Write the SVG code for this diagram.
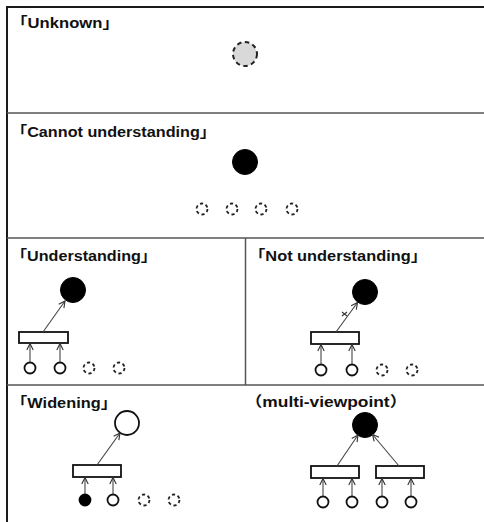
<svg xmlns="http://www.w3.org/2000/svg" width="484" height="522" viewBox="0 0 484 522">
<style>
.frame{stroke:#1a1a1a;stroke-width:2;fill:none}
.div{stroke:#555;stroke-width:1.5;fill:none}
.lbl{font-family:"Liberation Sans","Noto Sans CJK JP",sans-serif;font-weight:bold;font-size:14.5px;fill:#111}
.dash{fill:#fff;stroke:#222;stroke-width:1.8;stroke-dasharray:3.2 2.6}
.sm{fill:#fff;stroke:#111;stroke-width:1.8}
.blk{fill:#000;stroke:#000;stroke-width:1}
.box{fill:#fff;stroke:#111;stroke-width:1.8}
.arr{stroke:#444;stroke-width:1.1;fill:none;marker-end:url(#ah)}
</style>
<defs>
<marker id="ah" viewBox="0 0 10 10" refX="9" refY="5" markerWidth="8" markerHeight="8" orient="auto" markerUnits="userSpaceOnUse">
<path d="M1,1 L9,5 L1,9" fill="none" stroke="#333" stroke-width="1.4"/>
</marker>
</defs>
<rect width="484" height="522" fill="#fff"/>
<g id="frame">
<line class="frame" x1="7" y1="7" x2="484" y2="7"/>
<line class="frame" x1="7" y1="6" x2="7" y2="522"/>
<line class="div" x1="7" y1="113" x2="484" y2="113"/>
<line class="div" x1="7" y1="238" x2="484" y2="238"/>
<line class="div" x1="7" y1="385" x2="484" y2="385"/>
<line class="div" x1="245.5" y1="238" x2="245.5" y2="385"/>
</g>
<g id="labels">
<text class="lbl" x="11" y="28" textLength="108" lengthAdjust="spacingAndGlyphs">「Unknown」</text>
<text class="lbl" x="11" y="137" textLength="205" lengthAdjust="spacingAndGlyphs">「Cannot understanding」</text>
<text class="lbl" x="11" y="261" textLength="146" lengthAdjust="spacingAndGlyphs">「Understanding」</text>
<text class="lbl" x="249" y="261" textLength="178" lengthAdjust="spacingAndGlyphs">「Not understanding」</text>
<text class="lbl" x="11" y="408" textLength="106" lengthAdjust="spacingAndGlyphs">「Widening」</text>
<text class="lbl" x="245" y="407" textLength="162" lengthAdjust="spacingAndGlyphs">（multi-viewpoint）</text>
</g>
<g id="unknown">
<circle cx="245" cy="54" r="12" fill="#d9d9d9" stroke="#222" stroke-width="2" stroke-dasharray="4.5 3.5"/>
</g>
<g id="cannot">
<circle class="blk" cx="245" cy="162" r="12.5"/>
<circle class="dash" cx="202" cy="209" r="5.5"/>
<circle class="dash" cx="232" cy="209" r="5.5"/>
<circle class="dash" cx="261" cy="209" r="5.5"/>
<circle class="dash" cx="292" cy="209" r="5.5"/>
</g>
<g id="understanding">
<circle class="blk" cx="73" cy="290" r="12.5"/>
<rect class="box" x="19" y="332" width="49" height="11"/>
<circle class="sm" cx="30" cy="368" r="5.5"/>
<circle class="sm" cx="60" cy="368" r="5.5"/>
<circle class="dash" cx="89" cy="368" r="5.5"/>
<circle class="dash" cx="119" cy="368" r="5.5"/>
</g>
<g id="not-understanding">
<circle class="blk" cx="365" cy="292" r="12.5"/>
<rect class="box" x="311" y="332" width="48" height="12"/>
<circle class="sm" cx="321" cy="370" r="5.5"/>
<circle class="sm" cx="352" cy="370" r="5.5"/>
<circle class="dash" cx="382" cy="370" r="5.5"/>
<circle class="dash" cx="412" cy="370" r="5.5"/>
<path d="M342,312 L347,316 M342,316 L347,312" stroke="#333" stroke-width="1.1" fill="none"/>
</g>
<g id="widening">
<circle class="sm" cx="127" cy="423" r="12"/>
<rect class="box" x="73" y="465" width="48" height="12"/>
<circle cx="85" cy="500" r="5.5" fill="#000" stroke="#000" stroke-width="1.8"/>
<circle class="sm" cx="113" cy="500" r="5.5"/>
<circle class="dash" cx="144" cy="500" r="5.5"/>
<circle class="dash" cx="174" cy="500" r="5.5"/>
</g>
<g id="multi-viewpoint">
<circle class="blk" cx="365" cy="425" r="12.5"/>
<rect class="box" x="311" y="466" width="48" height="12"/>
<rect class="box" x="376" y="466" width="48" height="12"/>
<circle class="sm" cx="323" cy="502" r="5.5"/>
<circle class="sm" cx="352" cy="502" r="5.5"/>
<circle class="sm" cx="382" cy="502" r="5.5"/>
<circle class="sm" cx="411" cy="502" r="5.5"/>
</g>
<g id="connectors">
<line class="arr" x1="43" y1="332" x2="65" y2="301"/>
<line class="arr" x1="30" y1="362" x2="30" y2="343.5"/>
<line class="arr" x1="60" y1="362" x2="60" y2="343.5"/>
<line class="arr" x1="336" y1="332" x2="357.5" y2="302.5"/>
<line class="arr" x1="321" y1="364" x2="321" y2="344.5"/>
<line class="arr" x1="352" y1="364" x2="352" y2="344.5"/>
<line class="arr" x1="97" y1="465" x2="120" y2="433"/>
<line class="arr" x1="85" y1="494" x2="85" y2="477.5"/>
<line class="arr" x1="113" y1="494" x2="113" y2="477.5"/>
<line class="arr" x1="337" y1="466" x2="358" y2="435"/>
<line class="arr" x1="399" y1="466" x2="372.5" y2="434.5"/>
<line class="arr" x1="323" y1="496" x2="323" y2="478.5"/>
<line class="arr" x1="352" y1="496" x2="352" y2="478.5"/>
<line class="arr" x1="382" y1="496" x2="382" y2="478.5"/>
<line class="arr" x1="411" y1="496" x2="411" y2="478.5"/>
</g>
</svg>
